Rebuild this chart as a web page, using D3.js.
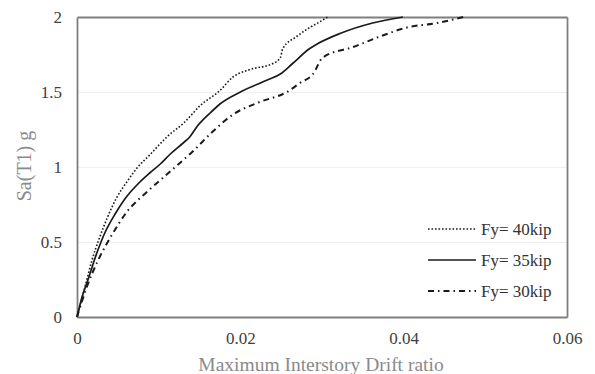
<!DOCTYPE html>
<html>
<head>
<meta charset="utf-8">
<script src="https://cdn.jsdelivr.net/npm/d3@7"></script>
<style>
  html, body { margin: 0; padding: 0; background: #fff; }
  svg { display: block; }
</style>
</head>
<body>
<svg id="chart" width="595" height="374"></svg>
<script>
// ---- data ----
const xTicks = [0, 0.02, 0.04, 0.06];
const yTicks = [0, 0.5, 1, 1.5, 2];
const xTickLabels = ["0", "0.02", "0.04", "0.06"];
const yTickLabels = ["0", "0.5", "1", "1.5", "2"];
const seriesNames = ["Fy= 40kip", "Fy= 35kip", "Fy= 30kip"];

const drift40 = [0, 0.00098, 0.00184, 0.0027, 0.0037, 0.0049, 0.0061, 0.0073, 0.0089, 0.011, 0.0132, 0.0151, 0.0175, 0.0191, 0.0212, 0.024, 0.0249, 0.0252, 0.0269, 0.0282, 0.0298, 0.0307];
const sa40    = [0, 0.2, 0.38, 0.52, 0.66, 0.8, 0.9, 0.99, 1.08, 1.2, 1.3, 1.41, 1.51, 1.6, 1.65, 1.69, 1.73, 1.79, 1.87, 1.92, 1.97, 2.0];

const drift35 = [0, 0.0006, 0.00135, 0.00245, 0.0034, 0.0047, 0.0059, 0.0077, 0.0089, 0.0102, 0.0113, 0.013, 0.0138, 0.0147, 0.0163, 0.0175, 0.02, 0.0233, 0.0249, 0.0264, 0.0285, 0.0294, 0.0322, 0.0362, 0.0399];
const sa35    = [0, 0.13, 0.25, 0.43, 0.56, 0.69, 0.79, 0.9, 0.96, 1.02, 1.08, 1.16, 1.2, 1.27, 1.36, 1.42, 1.5, 1.58, 1.62, 1.69, 1.79, 1.82, 1.89, 1.96, 2.0];

const drift30 = [0, 0.0012, 0.0026, 0.0043, 0.0061, 0.0087, 0.0114, 0.0141, 0.0165, 0.0191, 0.0222, 0.0257, 0.0273, 0.0289, 0.0301, 0.0338, 0.0371, 0.0404, 0.0441, 0.0473];
const sa30    = [0, 0.2, 0.38, 0.55, 0.7, 0.84, 0.97, 1.1, 1.23, 1.35, 1.43, 1.5, 1.56, 1.62, 1.73, 1.8, 1.87, 1.93, 1.96, 2.0];

// ---- layout ----
const svg = d3.select("#chart");
const m = { left: 77, top: 17, right: 567, bottom: 317 };
const x = d3.scaleLinear().domain([0, 0.06]).range([m.left, m.right]);
const y = d3.scaleLinear().domain([0, 2]).range([m.bottom, m.top]);
const font = "'Liberation Serif', 'Times New Roman', serif";
const frameColor = "#7f7f7f";

// faint horizontal gridlines via axis ticks
const grid = svg.append("g").attr("transform", `translate(${m.left},0)`)
  .call(d3.axisRight(y).tickValues([0.5, 1, 1.5]).tickSize(m.right - m.left).tickFormat(""));
grid.select(".domain").remove();
grid.selectAll("line").attr("stroke", "#efefef");

// frame: top and right via axes without ticks
const gTop = svg.append("g").attr("transform", `translate(0,${m.top})`)
  .call(d3.axisTop(x).tickValues([]).tickSizeOuter(0));
gTop.select(".domain").attr("stroke", frameColor).attr("stroke-width", 1.8);
const gRight = svg.append("g").attr("transform", `translate(${m.right},0)`)
  .call(d3.axisRight(y).tickValues([]).tickSizeOuter(0));
gRight.select(".domain").attr("stroke", frameColor).attr("stroke-width", 1.8);

// bottom axis
const xAxis = d3.axisBottom(x).tickValues(xTicks).tickSize(0).tickSizeOuter(0).tickPadding(15)
  .tickFormat((d, i) => xTickLabels[i]);
const gx = svg.append("g").attr("transform", `translate(0,${m.bottom})`).call(xAxis);
gx.select(".domain").attr("stroke", frameColor).attr("stroke-width", 1.8);
gx.selectAll("text").attr("font-family", font).attr("font-size", 17).attr("fill", "#404040");

// left axis
const yAxis = d3.axisLeft(y).tickValues(yTicks).tickSize(0).tickSizeOuter(0).tickPadding(15)
  .tickFormat((d, i) => yTickLabels[i]);
const gy = svg.append("g").attr("transform", `translate(${m.left},0)`).call(yAxis);
gy.select(".domain").attr("stroke", frameColor).attr("stroke-width", 1.8);
gy.selectAll("text").attr("font-family", font).attr("font-size", 17).attr("fill", "#404040");

// axis titles
svg.append("text")
  .attr("x", 321).attr("y", 371)
  .attr("text-anchor", "middle")
  .attr("font-family", font).attr("font-size", 19.5).attr("fill", "#8a8a8a")
  .text("Maximum Interstory Drift ratio");

svg.append("text")
  .attr("transform", `translate(31,166) rotate(-90)`)
  .attr("text-anchor", "middle")
  .attr("font-family", font).attr("font-size", 20).attr("fill", "#8a8a8a")
  .text("Sa(T1) g");

// series
const series = [
  { name: seriesNames[0], xs: drift40, ys: sa40, dash: "1.6,1.9", width: 1.6 },
  { name: seriesNames[1], xs: drift35, ys: sa35, dash: null, width: 1.7 },
  { name: seriesNames[2], xs: drift30, ys: sa30, dash: "6,4,1.5,4", width: 2 }
];

const line = d3.line().x(d => x(d[0])).y(d => y(d[1])).curve(d3.curveMonotoneX);

svg.append("g").selectAll("path").data(series).join("path")
  .attr("d", s => line(s.xs.map((v, i) => [v, s.ys[i]])))
  .attr("fill", "none")
  .attr("stroke", "#1a1a1a")
  .attr("stroke-width", s => s.width)
  .attr("stroke-dasharray", s => s.dash);

// legend
const leg = svg.append("g").selectAll("g").data(series).join("g")
  .attr("transform", (s, i) => `translate(428,${229 + i * 31})`);
leg.append("line")
  .attr("x1", 0).attr("x2", 48).attr("y1", 0).attr("y2", 0)
  .attr("stroke", "#1a1a1a")
  .attr("stroke-width", s => s.width)
  .attr("stroke-dasharray", s => s.dash);
leg.append("text")
  .attr("x", 53).attr("y", 0).attr("dy", "0.35em")
  .attr("font-family", font).attr("font-size", 17).attr("fill", "#333")
  .text(s => s.name);
</script>
</body>
</html>
